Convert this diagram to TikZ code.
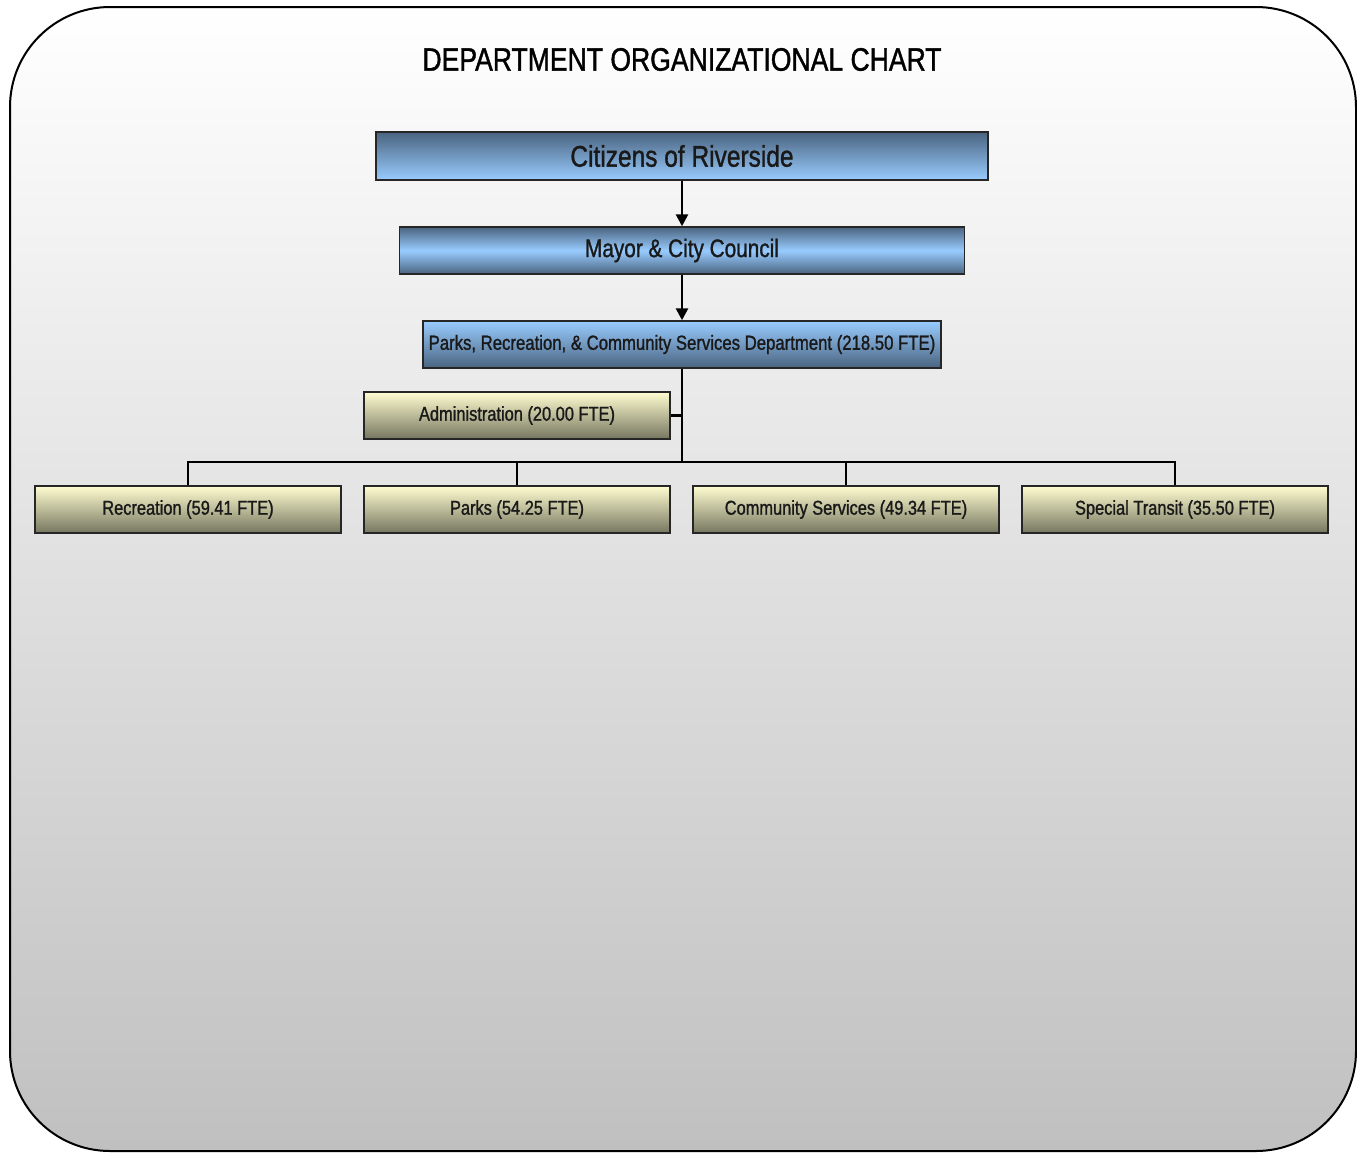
\documentclass[tikz,border=0pt]{standalone}
\usepackage{fontspec}
\setmainfont[FakeStretch=0.82,FakeBold=1.2]{Liberation Sans}
\usepackage{tikz}
\usetikzlibrary{arrows.meta}

\definecolor{steel}{HTML}{4A6480}
\definecolor{skyblue}{HTML}{99CCFF}
\definecolor{cream}{HTML}{FFFDD0}
\definecolor{olivegray}{HTML}{767660}
\definecolor{panelgray}{HTML}{C0C0C0}

\begin{document}
\begin{tikzpicture}[x=0.75pt,y=-0.75pt]
    \tikzstyle{box}=[draw=black!85,line width=1.1pt,inner sep=0,minimum height=35.25pt,text=black!90]
    \tikzstyle{blue box}=[box,top color=steel,bottom color=skyblue]
    \tikzstyle{yellow box}=[box,top color=cream,bottom color=olivegray,minimum width=229.5pt,font=\fontsize{15}{18}\selectfont]
    \tikzstyle{link}=[draw,line width=2pt]
    \tikzstyle{arrow link}=[link,-{Triangle[width=9pt,length=9pt]}]

    \useasboundingbox (0,0) rectangle (1357,1153);
    \shade[top color=white,bottom color=panelgray,draw=black,line width=1.5pt,rounded corners=75pt]
        (10,7) rectangle (1356,1151);

    \node(title) at (682,59.5) {\fontsize{24.3}{28}\selectfont DEPARTMENT ORGANIZATIONAL CHART};

    \node(citizens)[blue box,minimum width=459pt,minimum height=36pt,font=\fontsize{22.4}{26}\selectfont] at (682,156) {\raisebox{-2.5pt}{Citizens of Riverside}};
    \node(mayor)[blue box,top color=steel,bottom color=steel,middle color=skyblue,minimum width=423.75pt,font=\fontsize{19}{23}\selectfont] at (682,250.5) {\raisebox{-2pt}{Mayor \& City Council}};
    \node(dept)[blue box,top color=skyblue,bottom color=steel,minimum width=388.5pt,font=\fontsize{15.3}{18}\selectfont] at (682,344.5) {\raisebox{-2pt}{Parks, Recreation, \& Community Services Department (218.50 FTE)}};

    \node(admin)[yellow box] at (517,415.5) {\raisebox{-2pt}{Administration (20.00 FTE)}};
    \node(rec)[yellow box] at (188,509.5) {\raisebox{-2pt}{Recreation (59.41 FTE)}};
    \node(parks)[yellow box] at (517,509.5) {\raisebox{-2pt}{Parks (54.25 FTE)}};
    \node(comm)[yellow box] at (846,509.5) {\raisebox{-2pt}{Community Services (49.34 FTE)}};
    \node(transit)[yellow box] at (1175,509.5) {\raisebox{-2pt}{Special Transit (35.50 FTE)}};

    % connectors
    \path[arrow link] (citizens) -- (mayor);
    \path[arrow link] (mayor) -- (dept);
    \coordinate(bus) at (682,462);
    \path[link] (dept) -- (bus);
    \path[link] (admin.east) -- (admin.east -| dept.south);
    \path[link] (rec.north) |- (bus) -| (transit.north);
    \foreach \n in {parks,comm}
        \path[link] (\n.north) -- (\n.north |- bus);
\end{tikzpicture}
\end{document}
